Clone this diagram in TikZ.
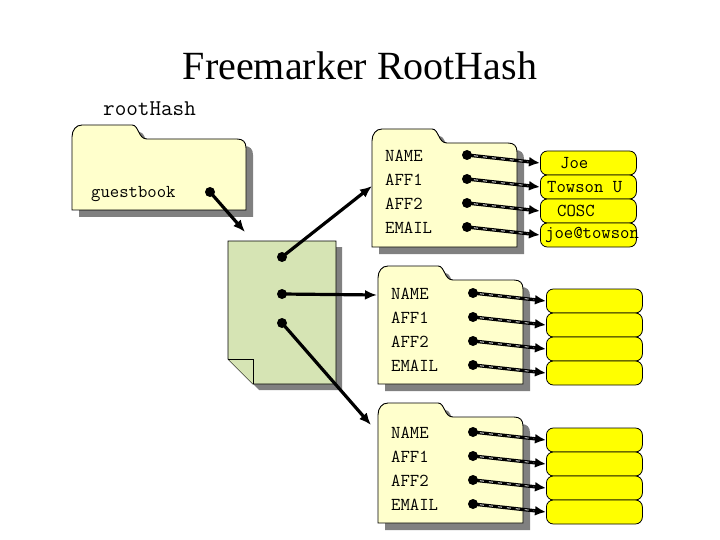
\documentclass[tikz,border=0pt]{standalone}
\usepackage{fontspec}
\setmainfont{Liberation Serif}
\usetikzlibrary{positioning, arrows.meta}
\definecolor{xfolder}{HTML}{FFFFCC}
\definecolor{xgreen}{HTML}{D6E4B4}
\definecolor{xshadow}{HTML}{808080}
\definecolor{xyellow}{HTML}{FFFF00}
\tikzset{
	folderbox/.style={draw=black, line width=0.9pt, fill=xfolder},
	docbox/.style={draw=black, line width=0.9pt, fill=xgreen},
	shadowbox/.style={fill=xshadow},
	mono/.style={font=\ttfamily\fontsize{18.2}{21}\selectfont, inner sep=0pt},
	hotdot/.style={circle, fill=black, inner sep=0pt, minimum size=10pt},
	link/.style={line width=3.2pt, -{Latex[length=12pt,width=10pt]}},
	ptr/.style={line width=3.4pt, -{Latex[length=11pt,width=10pt]},
		postaction={draw=white, line width=0.8pt, dash pattern=on 4pt off 5pt, shorten >=12pt, shorten <=7pt, -}},
	valbox/.style={draw=black, line width=0.8pt, fill=xyellow, rounded corners=7pt, minimum width=96pt, minimum height=24pt, inner sep=0pt},
}
\newcommand{\folderpath}[4]{(#1,#4) -- (#1,#2+12) .. controls (#1,#2+5) and (#1+4,#2) .. (#1+10,#2) -- (#1+60,#2) .. controls (#1+67,#2) and (#1+66,#2+14) .. (#1+75,#2+14) -- (#3-9,#2+14) .. controls (#3-3,#2+14) and (#3,#2+17) .. (#3,#2+23) -- (#3,#4) -- cycle}
\newcommand{\folder}[4]{%
	\fill[shadowbox, shift={(7,7)}] \folderpath{#1}{#2}{#3}{#4};
	\draw[folderbox] \folderpath{#1}{#2}{#3}{#4};
}

\begin{document}
\begin{tikzpicture}[x=1pt, y=-1pt]
	\useasboundingbox (0,0) rectangle (720,540);
	\node[font=\fontsize{40}{44}\selectfont, anchor=base] (title) at (360,80) {Freemarker RootHash};
	\node[mono, font=\ttfamily\fontsize{22.5}{26}\selectfont, anchor=base west] (root) at (103,116) {rootHash};

	% hash folders
	\folder{72}{125}{246}{210}
	\folder{372}{129}{517}{247}
	\folder{378}{266}{523}{384}
	\folder{378}{403}{523}{523}

	% sequence page
	\fill[shadowbox, shift={(6,6)}] (228,241) -- (336,241) -- (336,384) -- (253,384) -- (228,359) -- cycle;
	\draw[docbox] (228,241) -- (336,241) -- (336,384) -- (253,384) -- (228,359) -- cycle;
	\draw[docbox] (228,359) -- (253,359) -- (253,384);

	\node[mono, anchor=base west] (gb) at (91,197) {guestbook};
	\node[hotdot] (gbdot) at (210,192) {};
	\coordinate (seqtop) at (245,232);
	\draw[link] (gbdot.center) -- (seqtop);

	\coordinate (fa) at (372,186);
	\coordinate (fb) at (377,295);
	\coordinate (fc) at (371,425);
	\node[hotdot] (s0) at (282,257) {};
	\node[hotdot] (s1) at (282,294) {};
	\node[hotdot] (s2) at (282,323) {};
	\draw[link] (s0.center) -- (fa);
	\draw[link] (s1.center) -- (fb);
	\draw[link] (s2.center) -- (fc);

	% field rows
	\foreach \n/\L/\y in {a/372/155, b/378/293, c/378/432}{
		\foreach \lab [count=\i from 0] in {NAME,AFF1,AFF2,EMAIL}{
			\node[mono, anchor=west] (lab-\n\i) at (\L+13,\y+24*\i+1) {\lab};
			\node[valbox, anchor=west] (val-\n\i) at (\L+168,\y+24*\i+8) {};
			\node[hotdot] (dot-\n\i) at (\L+95,\y+24*\i) {};
			\draw[ptr] (dot-\n\i.center) -- (val-\n\i.west);
		}
	}

	\node[mono, right=20pt of val-a0.west] (joe) {Joe};
	\node[mono, right=7pt of val-a1.west] (towson) {Towson U};
	\node[mono, right=17pt of val-a2.west] (cosc) {COSC};
	\node[mono, right=5pt of val-a3.west] (email) {joe@towson};
\end{tikzpicture}
\end{document}
